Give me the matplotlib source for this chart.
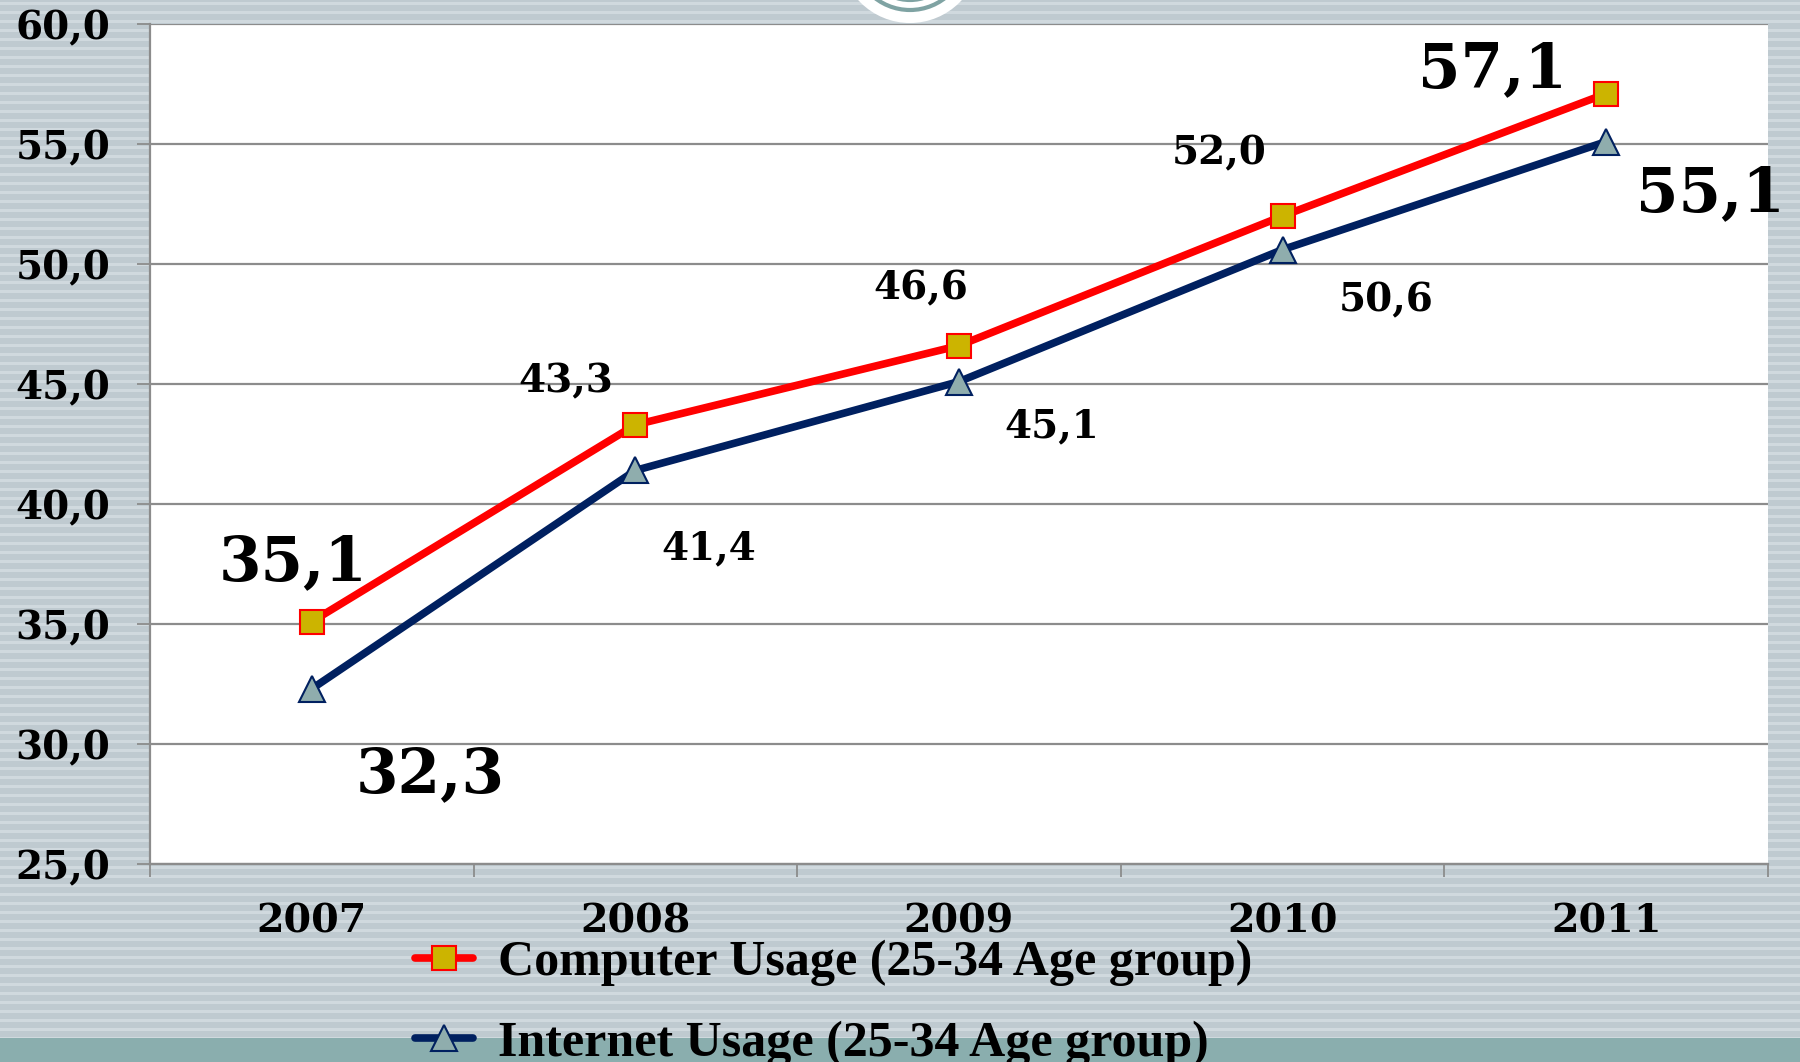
import matplotlib
matplotlib.use("Agg")
import matplotlib.pyplot as plt
from matplotlib.patches import Rectangle, Circle
from matplotlib.ticker import FuncFormatter, FixedLocator
import numpy as np

years = ["2007", "2008", "2009", "2010", "2011"]
computer = [35.1, 43.3, 46.6, 52.0, 57.1]
internet = [32.3, 41.4, 45.1, 50.6, 55.1]
series_names = ["Computer Usage (25-34 Age group)", "Internet Usage (25-34 Age group)"]
y_ticks = [25, 30, 35, 40, 45, 50, 55, 60]

# label offsets (pixels) and sizes
comp_off = [(-19, 58), (-70, 43), (-38, 57), (-63, 63), (-114, 23)]
int_off = [(118, -86), (73, -78), (93, -45), (104, -51), (104, -53)]
comp_big = [True, False, False, False, True]
int_big = [True, False, False, False, True]

W, H = 1800, 1062
fig = plt.figure(figsize=(W / 100, H / 100), dpi=100)

# background
bg = fig.add_axes([0, 0, 1, 1], zorder=-5)
bg.set_xlim(0, W)
bg.set_ylim(H, 0)
bg.axis("off")
bg.add_patch(Rectangle((0, 0), W, H, facecolor="#bfcad0", edgecolor="none"))
for y0 in np.arange(2, H, 9):
    bg.add_patch(Rectangle((0, y0), W, 2.5, facecolor="#d0d9de", edgecolor="none"))
bg.add_patch(Rectangle((0, 1038), W, H - 1038, facecolor="#8aaeae", edgecolor="none"))
bg.add_patch(Circle((910, -47), 70, facecolor="white", edgecolor="none"))
bg.add_patch(Circle((910, -47), 57, facecolor="none", edgecolor="#7fa3a3", linewidth=3))
bg.add_patch(Circle((910, -47), 47, facecolor="none", edgecolor="#7fa3a3", linewidth=3))

ax = fig.add_axes([150 / W, 1 - 864 / H, (1768 - 150) / W, (864 - 24) / H])
ax.set_facecolor("white")
x = np.arange(len(years))
ax.set_xlim(-0.5, len(years) - 0.5)
ax.set_ylim(25, 60)

num_font = dict(family="DejaVu Serif", fontweight="bold")

ax.plot(x, computer, color="#ff0000", linewidth=5.5, marker="s", markersize=17,
        markerfacecolor="#ccb400", markeredgecolor="#ff0000", markeredgewidth=1.5,
        label=series_names[0], zorder=4, solid_capstyle="round")
ax.plot(x, internet, color="#002060", linewidth=5.5, marker="^", markersize=19,
        markerfacecolor="#8fadad", markeredgecolor="#002060", markeredgewidth=1.5,
        label=series_names[1], zorder=3, solid_capstyle="round")

for i, v in enumerate(computer):
    ax.annotate(f"{v:.1f}".replace(".", ","), (x[i], v), xytext=comp_off[i],
                textcoords="offset pixels", ha="center", va="center",
                fontsize=44 if comp_big[i] else 28, color="black", zorder=6, **num_font)
for i, v in enumerate(internet):
    ax.annotate(f"{v:.1f}".replace(".", ","), (x[i], v), xytext=int_off[i],
                textcoords="offset pixels", ha="center", va="center",
                fontsize=44 if int_big[i] else 28, color="black", zorder=6, **num_font)

ax.set_yticks(y_ticks)
ax.yaxis.set_major_formatter(FuncFormatter(lambda v, p: f"{v:.1f}".replace(".", ",")))
ax.grid(axis="y", color="#8c8c8c", linewidth=1.6, zorder=1)
ax.set_axisbelow(True)
ax.set_xticks(x)
ax.set_xticklabels(years)
ax.xaxis.set_minor_locator(FixedLocator(np.arange(-0.5, len(years), 1.0)))
ax.tick_params(axis="x", which="major", length=0, pad=28)
ax.tick_params(axis="x", which="minor", length=9.4, width=1.3, color="#8c8c8c")
ax.tick_params(axis="y", which="major", length=9.4, width=1.3, color="#8c8c8c", pad=19)
for lab in ax.get_yticklabels():
    lab.set_fontfamily("DejaVu Serif")
    lab.set_fontweight("bold")
    lab.set_fontsize(28)
for lab in ax.get_xticklabels():
    lab.set_fontfamily("DejaVu Serif")
    lab.set_fontweight("bold")
    lab.set_fontsize(28.5)
for s in ["top", "right"]:
    ax.spines[s].set_visible(False)
for s in ["left", "bottom"]:
    ax.spines[s].set_color("#8c8c8c")
    ax.spines[s].set_linewidth(1.6)

leg = ax.legend(loc="upper left", bbox_to_anchor=(415 / W, 1 - 940 / H),
                bbox_transform=fig.transFigure, frameon=False,
                prop=dict(family="Liberation Serif", weight="bold", size=36),
                handlelength=1.15, handletextpad=0.5, labelspacing=0.68,
                borderpad=0, borderaxespad=0)

fig.savefig("out.png", dpi=100)
